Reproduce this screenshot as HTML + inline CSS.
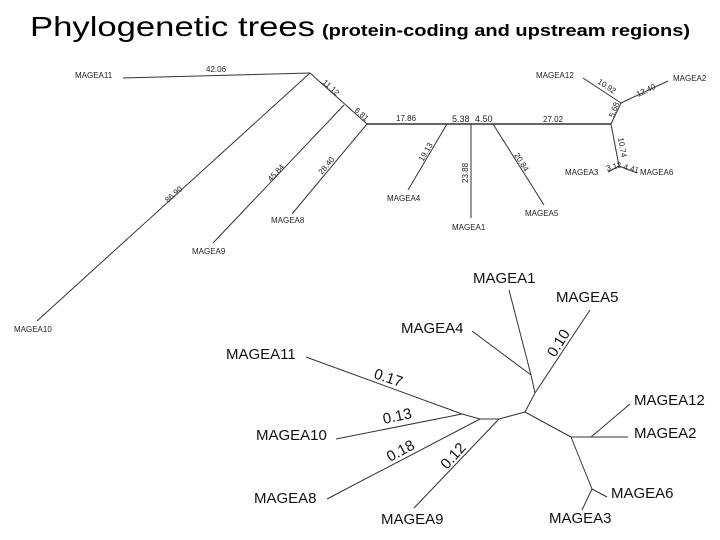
<!DOCTYPE html>
<html><head><meta charset="utf-8"><style>
html,body{margin:0;padding:0;background:#fff;}
svg{display:block;font-family:"Liberation Sans",Arial,sans-serif;}
</style></head><body>
<svg width="720" height="540" viewBox="0 0 720 540" xmlns="http://www.w3.org/2000/svg">
<text x="30" y="36" font-size="28" textLength="285" lengthAdjust="spacingAndGlyphs">Phylogenetic trees</text>
<text x="322" y="36" font-size="17" font-weight="bold" textLength="368" lengthAdjust="spacingAndGlyphs">(protein-coding and upstream regions)</text>

<g stroke="#333" stroke-width="1" fill="none">
<line x1="123" y1="78" x2="310" y2="73"/>
<line x1="310" y1="73" x2="37" y2="321"/>
<line x1="310" y1="73" x2="367" y2="124"/>
<line x1="344" y1="105" x2="213" y2="243"/>
<line x1="367" y1="124" x2="292" y2="214"/>
<line x1="367" y1="124" x2="611" y2="124" stroke-width="1.5"/>
<line x1="447" y1="124" x2="408" y2="190"/>
<line x1="471" y1="124" x2="471" y2="218"/>
<line x1="493" y1="124" x2="544" y2="205"/>
<line x1="611" y1="124" x2="621" y2="103"/>
<line x1="621" y1="103" x2="583" y2="78"/>
<line x1="621" y1="103" x2="668" y2="81"/>
<line x1="611" y1="124" x2="619" y2="166"/>
<line x1="619" y1="166" x2="608" y2="172"/>
<line x1="619" y1="166" x2="637" y2="173"/>
</g>
<g font-size="8" fill="#222">
<text x="75" y="78">MAGEA11</text>
<text x="14" y="332">MAGEA10</text>
<text x="192" y="254">MAGEA9</text>
<text x="271" y="223">MAGEA8</text>
<text x="387" y="201">MAGEA4</text>
<text x="452" y="230">MAGEA1</text>
<text x="525" y="216">MAGEA5</text>
<text x="536" y="78">MAGEA12</text>
<text x="673" y="81">MAGEA2</text>
<text x="565" y="175">MAGEA3</text>
<text x="640" y="175">MAGEA6</text>
<text x="206" y="72">42.06</text>
<text x="396" y="121">17.86</text>
<text x="452" y="122" font-size="9">5.38</text>
<text x="475" y="122" font-size="9">4.50</text>
<text x="543" y="122">27.02</text>
<text transform="translate(322,83) rotate(42)">11.12</text>
<text transform="translate(354,111) rotate(42)">6.81</text>
<text transform="translate(168,203) rotate(-42)">86.90</text>
<text transform="translate(271,182) rotate(-47)">45.84</text>
<text transform="translate(322,175) rotate(-50)">28.40</text>
<text transform="translate(423,162) rotate(-60)">19.13</text>
<text transform="translate(468,183) rotate(-90)">23.88</text>
<text transform="translate(514,155) rotate(58)">20.84</text>
<text transform="translate(597,83) rotate(33)">10.92</text>
<text transform="translate(638,97) rotate(-25)">12.40</text>
<text transform="translate(614,118) rotate(-70)">5.68</text>
<text transform="translate(618,138) rotate(80)">10.74</text>
<text transform="translate(607,171) rotate(-15)">3.12</text>
<text transform="translate(623,169) rotate(15)">4.41</text>
</g>

<g stroke="#333" stroke-width="1" fill="none">
<line x1="306" y1="357" x2="462" y2="414"/>
<line x1="336" y1="439" x2="462" y2="414"/>
<line x1="462" y1="414" x2="480" y2="419"/>
<line x1="480" y1="419" x2="499" y2="419"/>
<line x1="480" y1="419" x2="327" y2="499"/>
<line x1="499" y1="419" x2="414" y2="508"/>
<line x1="499" y1="419" x2="525" y2="412"/>
<line x1="525" y1="412" x2="535" y2="393"/>
<line x1="535" y1="393" x2="590" y2="310"/>
<line x1="535" y1="393" x2="531" y2="375"/>
<line x1="531" y1="375" x2="472" y2="331"/>
<line x1="531" y1="375" x2="509" y2="290"/>
<line x1="525" y1="412" x2="571" y2="437"/>
<line x1="571" y1="437" x2="628" y2="437"/>
<line x1="591" y1="437" x2="630" y2="404"/>
<line x1="571" y1="437" x2="592" y2="489"/>
<line x1="592" y1="489" x2="607" y2="497"/>
<line x1="592" y1="489" x2="582" y2="510"/>
</g>
<g font-size="15" fill="#111">
<text x="473" y="283">MAGEA1</text>
<text x="556" y="302">MAGEA5</text>
<text x="401" y="333">MAGEA4</text>
<text x="226" y="359">MAGEA11</text>
<text x="634" y="405">MAGEA12</text>
<text x="634" y="438">MAGEA2</text>
<text x="256" y="440">MAGEA10</text>
<text x="254" y="503">MAGEA8</text>
<text x="611" y="498">MAGEA6</text>
<text x="381" y="524">MAGEA9</text>
<text x="549" y="523">MAGEA3</text>
<text transform="translate(373,378) rotate(18)">0.17</text>
<text transform="translate(384,424) rotate(-12)">0.13</text>
<text transform="translate(390,462) rotate(-28)">0.18</text>
<text transform="translate(447,470) rotate(-48)">0.12</text>
<text transform="translate(555,358) rotate(-58)">0.10</text>
</g>
</svg>
</body></html>
